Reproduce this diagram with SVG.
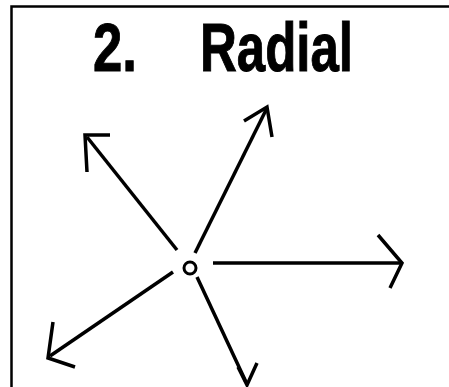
<svg xmlns="http://www.w3.org/2000/svg" width="449" height="387" viewBox="0 0 449 387">
<style>
.frame{fill:none;stroke:#000;stroke-width:2.5}
.ln{fill:none;stroke:#000;stroke-width:3.5;stroke-linecap:butt}
.hd{fill:none;stroke:#000;stroke-width:3.5;stroke-linejoin:miter;stroke-linecap:butt}
.title{font-family:"Liberation Sans",Arial,sans-serif;font-weight:bold;font-size:68px;fill:#000;stroke:#000;stroke-width:1}
</style>
<rect width="449" height="387" fill="#fff"/>
<polyline class="frame" points="11.5,387 11.5,6.5 449,6.5"/>
<g id="title">
<text class="title" x="93" y="71" textLength="44" lengthAdjust="spacingAndGlyphs">2.</text>
<text class="title" x="200" y="71" textLength="153" lengthAdjust="spacingAndGlyphs">Radial</text>
</g>
<g id="center">
<circle cx="190" cy="268" r="6" fill="#fff" stroke="#000" stroke-width="3"/>
</g>
<g id="connectors">
<line class="ln" x1="213" y1="263" x2="401" y2="263"/>
<polyline class="hd" points="378,235 402,263 390,288"/>
<line class="ln" x1="195" y1="253" x2="266" y2="110"/>
<polyline class="hd" points="244,121 267,107 272,137"/>
<line class="ln" x1="177" y1="250" x2="87" y2="137"/>
<polyline class="hd" points="110,135 85,135 87,172"/>
<line class="ln" x1="173" y1="272" x2="50" y2="356"/>
<polyline class="hd" points="53,322 48,358 75,367"/>
<line class="ln" x1="197" y1="277" x2="246" y2="382"/>
<polyline class="hd" points="238,367 247,385 257,363"/>
</g>
</svg>
